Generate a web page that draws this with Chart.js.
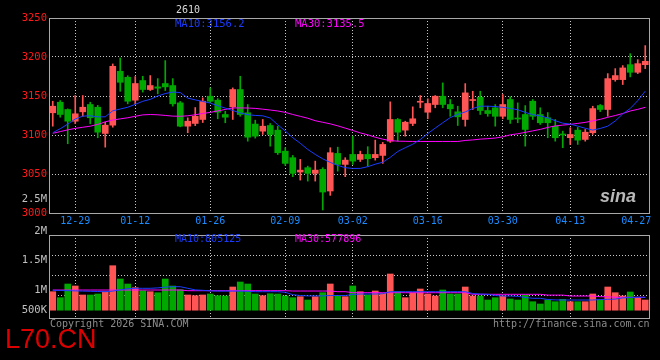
<!DOCTYPE html>
<html>
<head>
<meta charset="utf-8">
<script src="https://cdn.jsdelivr.net/npm/chart.js@4.4.1/dist/chart.umd.min.js"></script>
<style>
  html,body{margin:0;padding:0;background:#000;width:660px;height:360px;overflow:hidden;}
  #wrap{position:relative;width:660px;height:360px;}
  canvas{position:absolute;left:0;}
  .t{position:absolute;white-space:pre;font-family:"DejaVu Sans Mono",monospace;font-size:10px;line-height:12px;}
</style>
</head>
<body>
<div id="wrap">
  <canvas id="k" width="660" height="230" style="top:0"></canvas>
  <canvas id="v" width="660" height="136" style="top:190px"></canvas>
  <div class="t" style="left:176px;top:4px;color:#d8d8d8">2610</div>
  <div class="t" style="left:175px;top:17px;font-size:10.5px;color:#1a3cff">MA10:3156.2</div>
  <div class="t" style="left:295px;top:17px;font-size:10.5px;color:#ff00ff">MA30:3135.5</div>
  <div class="t" style="left:175px;top:233px;color:#1a3cff">MA10:805125</div>
  <div class="t" style="left:295px;top:233px;color:#ff00ff">MA30:577896</div>
  <div class="t" style="left:600px;top:186px;font-family:'Liberation Sans',sans-serif;font-style:italic;font-weight:bold;font-size:18px;line-height:20px;color:#b8b8b8">sina</div>
  <div class="t" style="left:50px;top:318px;color:#8c8c8c">Copyright 2026 SINA.COM</div>
  <div class="t" style="left:493px;top:318px;color:#8c8c8c">http://finance.sina.com.cn</div>
  <div class="t" style="left:5px;top:326px;font-family:'Liberation Sans',Arial,sans-serif;font-size:27px;line-height:27px;color:#dd0000">L70.CN</div>
</div>
<script>
var DATES = ["12-24","12-25","12-26","12-29","12-30","12-31",
  "01-05","01-06","01-07","01-08","01-09","01-12","01-13","01-14","01-15","01-16",
  "01-19","01-20","01-21","01-22","01-23","01-26","01-27","01-28","01-29","01-30",
  "02-02","02-03","02-04","02-05","02-06","02-09","02-10","02-11","02-12","02-13",
  "02-24","02-25","02-26","02-27",
  "03-02","03-03","03-04","03-05","03-06","03-09","03-10","03-11","03-12","03-13",
  "03-16","03-17","03-18","03-19","03-20","03-23","03-24","03-25","03-26","03-27",
  "03-30","03-31","04-01","04-02","04-03","04-07","04-08","04-09","04-10",
  "04-13","04-14","04-15","04-16","04-17","04-20","04-21","04-22","04-23","04-24","04-27"];
var TICK_DATES = ["12-29","01-12","01-26","02-09","03-02","03-16","03-30","04-13","04-27"];

var OPEN  = [3128.5,3142.0,3132.7,3117.7,3129.7,3139.1,3135.6,3102.0,3112.6,3181.7,
             3174.0,3144.6,3169.8,3158.3,3161.7,3166.0,3163.4,3141.2,3111.3,3114.8,
             3119.9,3149.7,3144.6,3126.3,3136.1,3158.3,3128.5,3114.0,3104.9,3112.2,
             3106.2,3079.3,3070.9,3052.5,3058.1,3050.8,3055.9,3028.2,3076.4,3062.3,
             3075.1,3068.7,3075.1,3070.9,3073.8,3092.1,3119.9,3106.2,3114.8,3142.0,
             3129.2,3139.1,3149.7,3139.1,3129.7,3119.9,3144.2,3148.4,3131.4,3134.9,
             3124.0,3145.5,3121.8,3126.3,3143.3,3126.3,3122.1,3111.3,3101.3,3096.5,
             3106.2,3094.3,3102.9,3137.8,3132.7,3171.0,3171.0,3190.2,3180.4,3190.2];
var HIGH  = [3143.3,3144.2,3133.5,3150.6,3150.6,3142.0,3138.0,3116.4,3191.1,3198.8,
             3176.0,3174.9,3175.3,3176.2,3172.3,3195.4,3172.3,3143.0,3122.0,3135.2,
             3147.6,3160.4,3146.7,3130.5,3160.4,3175.3,3139.1,3119.0,3119.9,3114.8,
             3111.3,3083.7,3073.8,3068.7,3060.1,3066.5,3058.1,3083.7,3084.4,3070.9,
             3098.5,3079.3,3085.0,3093.4,3090.5,3142.5,3121.2,3117.7,3136.1,3150.6,
             3146.4,3150.6,3166.8,3145.5,3136.9,3165.9,3156.1,3156.1,3136.9,3139.0,
             3151.9,3149.0,3141.2,3137.7,3145.5,3134.9,3128.8,3119.9,3105.0,3109.3,
             3109.7,3107.1,3136.9,3139.1,3178.7,3185.1,3189.0,3204.3,3196.6,3214.6];
var LOW   = [3111.3,3122.8,3088.8,3114.5,3124.0,3114.4,3096.5,3084.4,3110.0,3156.0,
             3140.0,3140.0,3155.0,3157.0,3152.8,3157.0,3137.0,3110.5,3102.9,3112.0,
             3116.0,3141.6,3120.8,3115.7,3119.9,3124.0,3092.1,3096.0,3100.7,3085.7,
             3075.0,3061.0,3046.6,3042.2,3040.9,3040.9,3003.9,3022.6,3053.7,3046.6,
             3062.3,3066.0,3060.1,3067.8,3063.6,3090.5,3092.1,3098.5,3112.0,3134.9,
             3120.8,3134.9,3134.9,3124.0,3112.2,3111.3,3132.7,3126.3,3124.0,3111.3,
             3120.8,3114.8,3115.7,3085.7,3119.9,3113.5,3096.5,3092.1,3083.7,3087.9,
             3087.9,3092.1,3100.7,3130.0,3124.0,3168.9,3164.7,3174.5,3178.7,3185.1];
var CLOSE = [3136.9,3126.3,3117.7,3127.2,3135.6,3122.1,3103.6,3112.6,3188.1,3167.6,
             3143.3,3166.0,3158.3,3163.4,3160.0,3161.7,3140.0,3111.3,3117.7,3124.1,
             3143.3,3143.3,3129.2,3122.8,3158.3,3126.3,3097.2,3098.5,3111.3,3100.7,
             3077.3,3063.6,3050.8,3055.0,3050.8,3055.0,3026.9,3077.3,3062.3,3067.8,
             3066.5,3075.1,3069.6,3075.1,3087.9,3119.9,3103.6,3116.4,3120.8,3142.9,
             3140.4,3149.7,3139.1,3133.6,3123.3,3154.0,3145.5,3131.4,3127.5,3124.0,
             3139.1,3119.9,3120.5,3107.1,3124.0,3115.7,3115.7,3096.5,3100.0,3100.7,
             3093.4,3103.6,3133.9,3132.7,3172.3,3176.2,3186.0,3180.4,3191.5,3194.5];
var MA10  = [3102.9,3108.1,3113.9,3120.5,3124.2,3124.6,3123.2,3123.3,3131.0,3133.3,
             3135.6,3139.3,3143.2,3145.7,3150.1,3153.1,3155.1,3154.4,3147.3,3145.0,
             3143.0,3141.0,3137.4,3134.5,3131.4,3128.3,3126.0,3125.1,3124.6,3121.8,
             3113.1,3105.2,3096.5,3089.4,3081.5,3075.1,3069.4,3064.9,3061.0,3058.1,
             3057.1,3057.2,3059.4,3062.6,3065.1,3071.3,3078.9,3083.7,3088.2,3094.2,
             3101.8,3108.9,3115.7,3122.3,3126.5,3129.6,3134.0,3136.9,3136.9,3136.5,
             3135.4,3134.1,3132.4,3129.0,3126.0,3124.4,3121.9,3118.3,3115.2,3114.0,
             3111.4,3108.6,3106.3,3108.4,3111.3,3118.0,3127.0,3134.0,3144.0,3156.2];
var MA30  = [3102.2,3104.4,3106.6,3108.5,3109.9,3111.3,3113.7,3116.9,3119.2,3120.7,
             3122.1,3124.0,3125.8,3126.3,3125.9,3125.1,3124.2,3124.0,3124.6,3126.0,
             3127.6,3129.0,3130.9,3132.8,3134.7,3134.7,3134.6,3134.1,3133.1,3132.0,
             3130.8,3129.0,3126.3,3123.9,3121.5,3118.3,3116.3,3114.3,3111.7,3108.8,
             3105.8,3102.7,3100.2,3097.1,3094.6,3092.8,3092.1,3091.9,3091.7,3091.7,
             3091.7,3091.7,3091.7,3091.7,3091.7,3093.0,3093.7,3094.7,3095.3,3096.1,
             3097.7,3100.2,3101.6,3103.4,3105.3,3107.2,3109.7,3111.6,3112.7,3113.6,
             3114.9,3116.2,3118.1,3120.1,3122.7,3125.0,3127.6,3130.8,3132.9,3135.5];

var VOLUME = [975000,825000,1167500,1117500,892500,892500,917500,975000,1625000,1292500,
              1167500,1075000,1000000,975000,950000,1292500,1117500,1025000,892500,875000,
              892500,917500,875000,867500,1092500,1217500,1167500,917500,875000,925000,
              917500,867500,825000,850000,767500,850000,950000,1167500,867500,850000,
              1117500,975000,892500,992500,935000,1417500,975000,825000,950000,1042500,
              917500,867500,1017500,917500,917500,1092500,867500,867500,767500,825000,
              867500,792500,767500,892500,725000,667500,767500,725000,785000,725000,
              725000,725000,917500,767500,1092500,950000,867500,967500,825000,767500];
var VMA10 = [1010000,1005000,1000000,995000,990000,985000,980000,975000,990000,1020000,
             1050000,1060000,1060000,1060000,1070000,1090000,1100000,1100000,1060000,1020000,
             1010000,995000,990000,990000,990000,990000,985000,975000,975000,975000,
             975000,960000,900000,880000,870000,870000,870000,880000,880000,880000,
             905000,917000,917000,917000,925000,975000,975000,975000,975000,975000,
             975000,975000,975000,975000,975000,975000,930000,917000,910000,880000,
             867000,867000,860000,830000,810000,810000,780000,770000,767000,767000,
             767000,767000,767000,780000,785000,790000,820000,830000,835000,835000];
var VMA30 = [1017000,1017000,1017000,1017000,1017000,1017000,1017000,1017000,1017000,1017000,
             1017000,1017000,1017000,1017000,1017000,1017000,1017000,1017000,1000000,1000000,
             1000000,1000000,1000000,1000000,1000000,1000000,1000000,1000000,1000000,1000000,
             1000000,1000000,992000,992000,992000,992000,992000,992000,975000,975000,
             950000,950000,950000,950000,950000,950000,950000,950000,950000,950000,
             950000,950000,950000,950000,950000,950000,910000,910000,910000,910000,
             910000,910000,910000,910000,910000,910000,890000,890000,890000,867000,
             867000,867000,867000,850000,850000,835000,835000,835000,835000,835000];

var PRICE_TICKS = [3000, 3050, 3100, 3150, 3200, 3250];
var VOL_BASE = 500000;
var VOL_LABEL_TICKS = [500000, 1000000, 1750000, 2492500, 3292500];
var VOL_LABELS = ["500K", "1M", "1.5M", "2M", "2.5M"];
var VOL_GRID_TICKS = [892500, 1392500, 1892500];

var UP = "#ff5555", DOWN = "#00a800";
var MONO = "'DejaVu Sans Mono', monospace";
var DOT = "#c8c8c8", NONE = "rgba(0,0,0,0)";

var candleColor = CLOSE.map(function(c, i){ return c >= OPEN[i] ? UP : DOWN; });
var bodies = OPEN.map(function(o, i){ return [o, CLOSE[i]]; });
var wicks = LOW.map(function(l, i){ return [l, HIGH[i]]; });

function xGridColor(ctx){
  var d = DATES[ctx.index];
  if (ctx.index === DATES.length - 1) return NONE;
  return TICK_DATES.indexOf(d) >= 0 ? DOT : NONE;
}

var frame = {
  id: "frame",
  afterDraw: function(chart){
    var a = chart.chartArea, c = chart.ctx;
    c.save();
    c.strokeStyle = "#a8a8a8";
    c.lineWidth = 1;
    c.strokeRect(Math.round(a.left) + 0.5, Math.round(a.top) + 0.5,
                 Math.round(a.right - a.left), Math.round(a.bottom - a.top));
    c.restore();
  }
};

function xScale(showLabels){
  return {
    offset: true,
    grid: { offset: false, color: xGridColor, drawTicks: false },
    border: { display: false, dash: [1, 2] },
    ticks: {
      display: showLabels, autoSkip: false, maxRotation: 0, padding: 2,
      color: "#1a8cff", font: { family: MONO, size: 10 },
      callback: function(v, i){
        var d = DATES[i];
        if (TICK_DATES.indexOf(d) < 0) return "";
        return i === DATES.length - 1 ? d + "   " : d;
      }
    },
    afterFit: function(s){ s.height = showLabels ? 17 : 0; s.paddingLeft = 0; s.paddingRight = 0; }
  };
}

Chart.defaults.animation = false;

new Chart(document.getElementById("k"), {
  type: "bar",
  data: {
    labels: DATES,
    datasets: [
      { type: "line", label: "MA10", data: MA10, borderColor: "#1a3cff", borderWidth: 1, pointRadius: 0, tension: 0, order: 0 },
      { type: "line", label: "MA30", data: MA30, borderColor: "#ff00ff", borderWidth: 1, pointRadius: 0, tension: 0, order: 1 },
      { label: "body", data: bodies, backgroundColor: candleColor, barThickness: 6, minBarLength: 1, grouped: false, order: 2 },
      { label: "wick", data: wicks, backgroundColor: candleColor, barThickness: 1, grouped: false, order: 3 }
    ]
  },
  options: {
    responsive: false,
    layout: { padding: { left: 0, right: 11, top: 18, bottom: 0 } },
    plugins: { legend: { display: false }, tooltip: { enabled: false } },
    scales: {
      x: xScale(true),
      y: {
        min: 3000, max: 3250,
        afterBuildTicks: function(s){ s.ticks = PRICE_TICKS.map(function(v){ return { value: v }; }); },
        afterFit: function(s){ s.width = 49; s.paddingTop = 0; s.paddingBottom = 0; },
        grid: { drawTicks: false, color: function(ctx){
          var v = ctx.tick ? ctx.tick.value : 0;
          return (v === 3000 || v === 3250) ? NONE : DOT; } },
        border: { display: false, dash: [1, 2] },
        ticks: { autoSkip: false, padding: 2, color: "#ff1a1a", font: { family: MONO, size: 10.5 },
          callback: function(v){ return String(v); } }
      }
    }
  },
  plugins: [frame]
});

new Chart(document.getElementById("v"), {
  type: "bar",
  data: {
    labels: DATES,
    datasets: [
      { type: "line", label: "VMA10", data: VMA10, borderColor: "#1a3cff", borderWidth: 1, pointRadius: 0, tension: 0, order: 0 },
      { type: "line", label: "VMA30", data: VMA30, borderColor: "#ff00ff", borderWidth: 1, pointRadius: 0, tension: 0, order: 1 },
      { label: "volume", data: VOLUME, base: VOL_BASE, backgroundColor: candleColor, barThickness: 6, grouped: false, order: 2 }
    ]
  },
  options: {
    responsive: false,
    layout: { padding: { left: 0, right: 11, top: 45, bottom: 8 } },
    plugins: { legend: { display: false }, tooltip: { enabled: false } },
    scales: {
      x: xScale(false),
      y: {
        min: 317500, max: 2392500,
        afterBuildTicks: function(s){
          s.ticks = VOL_LABEL_TICKS.concat(VOL_GRID_TICKS).map(function(v){ return { value: v }; });
        },
        afterFit: function(s){ s.width = 49; s.paddingTop = 0; s.paddingBottom = 0; },
        grid: { drawTicks: false, color: function(ctx){
          var v = ctx.tick ? ctx.tick.value : 0;
          return VOL_GRID_TICKS.indexOf(v) >= 0 ? DOT : NONE; } },
        border: { display: false, dash: [1, 2] },
        ticks: {
          autoSkip: false, padding: 2, color: "#c0c0c0", font: { family: MONO, size: 10.5 },
          callback: function(v){ var k = VOL_LABEL_TICKS.indexOf(v); return k >= 0 ? VOL_LABELS[k] : ""; }
        }
      }
    }
  },
  plugins: [frame]
});
</script>
</body>
</html>
